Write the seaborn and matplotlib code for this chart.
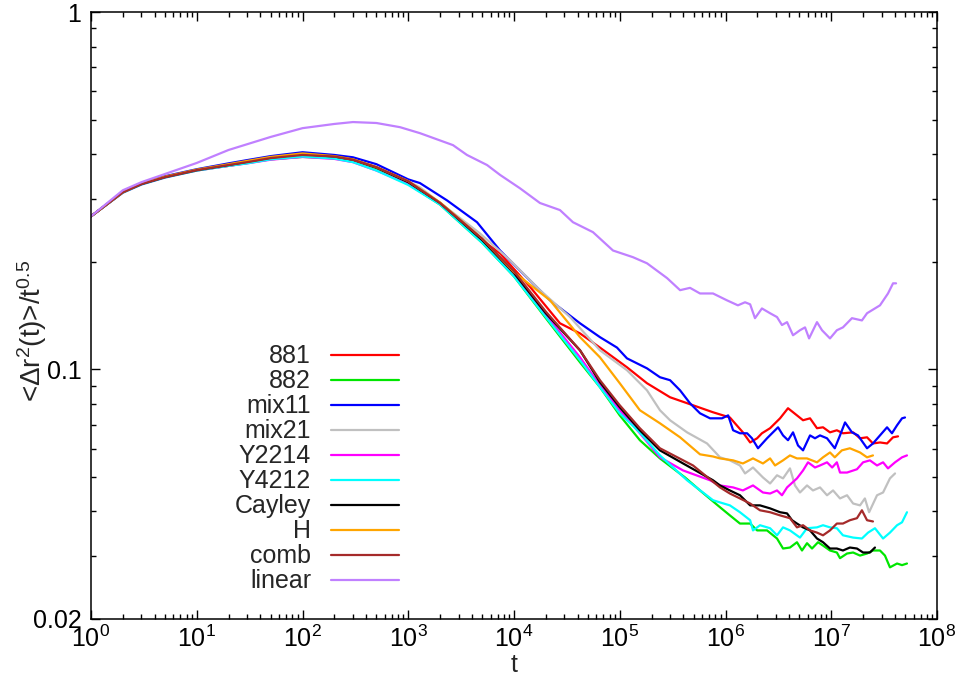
import numpy as np
import pandas as pd
import matplotlib
matplotlib.use('Agg')
import matplotlib.pyplot as plt
import seaborn as sns
from matplotlib.ticker import FixedLocator, FixedFormatter, NullFormatter, LogFormatterSciNotation

sns.set_style('ticks')
plt.rcParams['font.family'] = ['Liberation Sans', 'DejaVu Sans']
plt.rcParams['mathtext.fontset'] = 'custom'
plt.rcParams['mathtext.rm'] = 'Liberation Sans'
plt.rcParams['mathtext.it'] = 'Liberation Sans:italic'
plt.rcParams['mathtext.default'] = 'regular'

# ---- data (t, <dr^2(t)>/t^0.5) ----
t_early = [1, 2, 3, 5, 10, 20, 30, 50, 100, 200, 300, 500, 1000]

t_881 = t_early + [2000, 5000, 7380, 1.42e4, 2.72e4, 4.21e4, 6.5e4, 1.17e5, 1.81e5, 2.99e5, 4.93e5, 7.62e5, 1.10e6,
                   1.46e6, 1.71e6, 1.99e6, 2.21e6, 2.64e6, 3.28e6, 3.90e6, 4.74e6, 5.41e6, 6.30e6, 7.33e6, 8.36e6,
                   9.73e6, 1.13e7, 1.29e7, 1.61e7, 1.87e7, 2.18e7, 2.48e7, 2.89e7, 3.37e7, 3.84e7, 4.28e7]
y_881 = [0.268, 0.313, 0.330, 0.345, 0.361, 0.371, 0.378, 0.389, 0.397, 0.392, 0.385, 0.366, 0.334,
         0.291, 0.230, 0.211, 0.170, 0.1345, 0.126, 0.115, 0.1013, 0.0914, 0.0835, 0.0793, 0.0758, 0.0733,
         0.0666, 0.0624, 0.0641, 0.0662, 0.0684, 0.0729, 0.0778, 0.0743, 0.0720, 0.0729, 0.0684, 0.0688,
         0.0666, 0.0675, 0.0662, 0.0666, 0.0641, 0.0645, 0.0620, 0.0624, 0.0620, 0.0645, 0.0649]

t_882 = t_early + [2000, 5000, 1e4, 2e4, 4.21e4, 6.5e4, 1e5, 1.55e5, 2.4e5, 4.14e5, 5.74e5,
                   8.87e5, 1.10e6, 1.37e6, 1.71e6, 1.99e6, 2.47e6, 3.07e6, 3.50e6, 4.07e6, 4.74e6,
                   5.29e6, 5.90e6, 6.58e6, 7.50e6, 8.36e6, 9.73e6, 1.13e7, 1.21e7, 1.41e7, 1.61e7,
                   1.87e7, 2.18e7, 2.48e7, 2.89e7, 3.22e7, 3.59e7, 4.19e7, 4.67e7, 5.2e7]
y_882 = [0.268, 0.313, 0.330, 0.345, 0.360, 0.372, 0.378, 0.387, 0.393, 0.390, 0.383, 0.363, 0.330,
         0.289, 0.226, 0.182, 0.139, 0.1046, 0.0891, 0.0743, 0.0633, 0.0563, 0.0498, 0.0458,
         0.0411, 0.0390, 0.0370, 0.0370, 0.0354, 0.0354, 0.0336, 0.0315, 0.0317, 0.0328,
         0.0311, 0.0326, 0.0315, 0.0328, 0.0321, 0.0311, 0.0307, 0.0296, 0.0305, 0.0307,
         0.0301, 0.0305, 0.0311, 0.0311, 0.0301, 0.0279, 0.0286, 0.0283, 0.0286]

t_mix11 = t_early + [1290, 2325, 4470, 7380, 1.14e4, 2.19e4, 4.21e4, 6.5e4, 9.42e4, 1.17e5,
                     1.81e5, 2.4e5, 2.99e5, 3.72e5, 4.62e5, 5.74e5, 7.14e5, 9.27e5, 1.06e6, 1.18e6,
                     1.37e6, 1.60e6, 1.78e6, 2.03e6, 2.47e6, 2.81e6, 3.14e6, 3.50e6, 3.90e6, 4.35e6,
                     4.85e6, 5.41e6, 6.30e6, 7.02e6, 7.83e6, 9.12e6, 1.08e7, 1.21e7, 1.35e7, 1.57e7,
                     1.79e7, 2.18e7, 2.48e7, 2.89e7, 3.37e7, 3.75e7, 4.19e7, 4.67e7, 4.98e7]
y_mix11 = [0.268, 0.314, 0.332, 0.347, 0.363, 0.377, 0.385, 0.395, 0.405, 0.398, 0.392, 0.375, 0.340,
           0.332, 0.297, 0.258, 0.215, 0.189, 0.156, 0.1345, 0.123, 0.115, 0.1073,
           0.1006, 0.0950, 0.0932, 0.0873, 0.0803, 0.0753, 0.0729, 0.0729, 0.0743, 0.0675,
           0.0662, 0.0662, 0.0641, 0.0601, 0.0641, 0.0666, 0.0688, 0.0653, 0.0633, 0.0666,
           0.0612, 0.0593, 0.0653, 0.0641, 0.0653, 0.0641, 0.0601, 0.0653, 0.0710, 0.0666,
           0.0653, 0.0601, 0.0620, 0.0653, 0.0688, 0.0662, 0.0697, 0.0729, 0.0733]

t_mix21 = t_early + [1290, 4770, 9170, 1.76e4, 3.39e4, 6.5e4, 1.17e5, 1.81e5, 2.4e5, 2.99e5,
                     4.33e5, 6.69e5, 8.87e5, 1.10e6, 1.37e6, 1.53e6, 1.82e6, 2.26e6, 2.64e6, 3.07e6,
                     3.50e6, 4.07e6, 4.54e6, 5.06e6, 5.90e6, 6.72e6, 7.83e6, 9.12e6, 1.04e7, 1.21e7,
                     1.41e7, 1.61e7, 1.87e7, 2.08e7, 2.28e7, 2.71e7, 3.09e7, 3.59e7, 4.01e7]
y_mix21 = [0.268, 0.313, 0.330, 0.345, 0.361, 0.373, 0.380, 0.390, 0.397, 0.393, 0.386, 0.368, 0.336,
           0.323, 0.240, 0.202, 0.1665, 0.140, 0.113, 0.0994, 0.0873, 0.0768, 0.0720,
           0.0666, 0.0620, 0.0567, 0.0556, 0.0538, 0.0511, 0.0531, 0.0498, 0.0479, 0.0505,
           0.0495, 0.0528, 0.0473, 0.0452, 0.0473, 0.0458, 0.0467, 0.0444, 0.0458, 0.0435,
           0.0444, 0.0421, 0.0416, 0.0435, 0.0398, 0.0444, 0.0452, 0.0495, 0.0511]

t_Y2214 = t_early + [2000, 5000, 1e4, 2e4, 4.21e4, 6.5e4, 1e5, 1.55e5, 2.4e5, 3.97e5,
                     7.14e5, 8.87e5, 1.18e6, 1.46e6, 1.82e6, 2.26e6, 2.64e6, 3.07e6, 3.42e6, 3.82e6,
                     4.74e6, 5.41e6, 6.03e6, 7.02e6, 7.83e6, 9.12e6, 1.02e7, 1.13e7, 1.21e7, 1.41e7,
                     1.75e7, 2.0e7, 2.32e7, 2.71e7, 3.09e7, 3.44e7, 4.01e7, 4.67e7, 5.2e7]
y_Y2214 = [0.268, 0.312, 0.329, 0.344, 0.360, 0.371, 0.377, 0.386, 0.393, 0.388, 0.380, 0.360, 0.330,
           0.290, 0.228, 0.184, 0.142, 0.108, 0.0902, 0.0768, 0.0662, 0.0567, 0.0521,
           0.0489, 0.0473, 0.0467, 0.0458, 0.0473, 0.0452, 0.0449, 0.0458, 0.0444, 0.0467,
           0.0495, 0.0521, 0.0549, 0.0531, 0.0538, 0.0549, 0.0531, 0.0549, 0.0514, 0.0514,
           0.0525, 0.0549, 0.0556, 0.0538, 0.0549, 0.0528, 0.0549, 0.0567, 0.0574]

t_Y4212 = t_early + [2000, 5000, 1e4, 2e4, 4.21e4, 6.5e4, 1e5, 1.55e5, 2.4e5, 4.33e5, 7.62e5,
                     8.87e5, 1.10e6, 1.37e6, 1.71e6, 1.82e6, 2.12e6, 2.64e6, 3.07e6, 3.50e6, 4.07e6,
                     5.06e6, 5.90e6, 7.33e6, 8.36e6, 9.73e6, 1.13e7, 1.29e7, 1.61e7, 1.95e7, 2.23e7,
                     2.59e7, 3.09e7, 3.59e7, 4.19e7, 4.67e7, 5.2e7]
y_Y4212 = [0.268, 0.312, 0.329, 0.344, 0.360, 0.371, 0.377, 0.387, 0.394, 0.389, 0.380, 0.360, 0.328,
           0.289, 0.226, 0.182, 0.140, 0.106, 0.0891, 0.0753, 0.0665, 0.0574, 0.0489, 0.0430,
           0.0424, 0.0416, 0.0398, 0.0378, 0.0354, 0.0366, 0.0359, 0.0343, 0.0361, 0.0354,
           0.0338, 0.0359, 0.0361, 0.0366, 0.0361, 0.0359, 0.0343, 0.0338, 0.0336, 0.0349,
           0.0359, 0.0336, 0.0349, 0.0366, 0.0373, 0.0398]

t_Cayley = t_early + [2000, 5000, 1e4, 2e4, 4.21e4, 6.5e4, 1e5, 1.55e5, 2.4e5, 3.97e5,
                      7.62e5, 8.87e5, 1.10e6, 1.37e6, 1.71e6, 2.12e6, 2.64e6, 3.28e6, 3.82e6, 4.26e6,
                      4.74e6, 5.41e6, 6.30e6, 7.33e6, 8.36e6, 9.73e6, 1.13e7, 1.29e7, 1.50e7, 1.75e7,
                      2.0e7, 2.32e7, 2.59e7]
y_Cayley = [0.268, 0.313, 0.330, 0.345, 0.361, 0.373, 0.381, 0.391, 0.400, 0.394, 0.386, 0.367, 0.334,
            0.292, 0.230, 0.186, 0.1435, 0.113, 0.092, 0.0783, 0.0675, 0.0593, 0.0545,
            0.0489, 0.0473, 0.0458, 0.0444, 0.0416, 0.0416, 0.0408, 0.0398, 0.0395, 0.0378,
            0.0370, 0.0361, 0.0354, 0.0336, 0.0328, 0.0315, 0.0315, 0.0311, 0.0317, 0.0315,
            0.0307, 0.0307, 0.0317]

t_H = t_early + [2000, 5000, 1e4, 2.19e4, 4.21e4, 6.5e4, 1e5, 1.55e5, 2.4e5, 3.72e5,
                 5.74e5, 7.62e5, 8.87e5, 1.18e6, 1.46e6, 1.82e6, 2.26e6, 2.64e6, 2.94e6, 3.50e6,
                 4.07e6, 4.74e6, 5.90e6, 7.33e6, 8.36e6, 9.73e6, 1.08e7, 1.26e7, 1.50e7, 1.87e7,
                 2.18e7, 2.48e7]
y_H = [0.268, 0.313, 0.331, 0.346, 0.362, 0.375, 0.383, 0.393, 0.402, 0.395, 0.387, 0.368, 0.336,
       0.293, 0.232, 0.187, 0.156, 0.123, 0.108, 0.0914, 0.0768, 0.0706, 0.0645,
       0.0578, 0.0570, 0.0563, 0.0556, 0.0545, 0.0563, 0.0545, 0.0563, 0.0538, 0.0556,
       0.0574, 0.0563, 0.0563, 0.0549, 0.0567, 0.0585, 0.0567, 0.0593, 0.0601, 0.0585,
       0.0567, 0.0574]

t_comb = t_early + [2000, 5000, 1e4, 2e4, 4.21e4, 6.5e4, 1e5, 1.55e5, 2.4e5, 4.93e5,
                    8.87e5, 1.10e6, 1.37e6, 1.71e6, 2.12e6, 2.64e6, 3.28e6, 4.07e6, 4.74e6, 5.41e6,
                    6.30e6, 7.33e6, 8.36e6, 9.73e6, 1.13e7, 1.29e7, 1.50e7, 1.75e7, 1.95e7, 2.18e7,
                    2.48e7]
y_comb = [0.268, 0.313, 0.330, 0.345, 0.361, 0.373, 0.380, 0.390, 0.398, 0.394, 0.386, 0.368, 0.336,
          0.292, 0.232, 0.188, 0.145, 0.113, 0.0932, 0.0793, 0.0684, 0.0601, 0.0538,
          0.0467, 0.0449, 0.0435, 0.0421, 0.0403, 0.0398, 0.0390, 0.0383, 0.0361, 0.0366,
          0.0354, 0.0349, 0.0343, 0.0354, 0.0370, 0.0370, 0.0378, 0.0383, 0.0403, 0.0378,
          0.0375]

t_linear = [1, 2, 3, 5, 10, 20, 50, 100, 200, 300,
            500, 836, 1290, 2650, 3590, 5560, 7380, 1.14e4, 1.76e4, 2.72e4,
            3.61e4, 5.58e4, 8.63e4, 1.33e5, 1.81e5, 2.80e5, 3.72e5, 4.62e5, 5.74e5, 7.62e5,
            1.03e6, 1.31e6, 1.53e6, 1.71e6, 1.90e6, 2.21e6, 2.64e6, 3.07e6, 3.42e6, 3.82e6,
            4.35e6, 5.06e6, 5.65e6, 6.17e6, 7.33e6, 8.18e6, 9.73e6, 1.13e7, 1.29e7, 1.57e7,
            1.95e7, 2.18e7, 2.89e7, 3.44e7, 3.84e7, 4.10e7]
y_linear = [0.268, 0.317, 0.334, 0.352, 0.378, 0.411, 0.447, 0.473, 0.486, 0.492,
            0.489, 0.476, 0.458, 0.424, 0.398, 0.373, 0.350, 0.321, 0.292, 0.279,
            0.258, 0.242, 0.215, 0.206, 0.198, 0.180, 0.1665, 0.169, 0.163, 0.163,
            0.156, 0.151, 0.154, 0.152, 0.139, 0.148, 0.1435, 0.140, 0.133, 0.1355,
            0.1245, 0.1286, 0.131, 0.122, 0.1355, 0.1286, 0.122, 0.1286, 0.131, 0.139,
            0.137, 0.1435, 0.151, 0.163, 0.174, 0.174]

series = [
    ('881', t_881, y_881, '#ff0000'),
    ('882', t_882, y_882, '#00e600'),
    ('mix11', t_mix11, y_mix11, '#0000ff'),
    ('mix21', t_mix21, y_mix21, '#c0c0c0'),
    ('Y2214', t_Y2214, y_Y2214, '#ff00ff'),
    ('Y4212', t_Y4212, y_Y4212, '#00ffff'),
    ('Cayley', t_Cayley, y_Cayley, '#000000'),
    ('H', t_H, y_H, '#ffa500'),
    ('comb', t_comb, y_comb, '#a52a2a'),
    ('linear', t_linear, y_linear, '#c080ff'),
]

x_major = [1e0, 1e1, 1e2, 1e3, 1e4, 1e5, 1e6, 1e7, 1e8]
y_major = [0.02, 0.1, 1]
y_major_labels = ['0.02', '0.1', '1']
y_minor = [0.03, 0.04, 0.05, 0.06, 0.07, 0.08, 0.09, 0.2, 0.3, 0.4, 0.5, 0.6, 0.7, 0.8, 0.9]

fs = 18
fig = plt.figure(figsize=(9.72, 6.77), dpi=100)
ax = fig.add_axes([91 / 972, 58 / 677, 846 / 972, 607 / 677])

for name, t, y, col in series:
    df = pd.DataFrame({'t': t, 'y': y})
    sns.lineplot(data=df, x='t', y='y', ax=ax, color=col, lw=1.6, label=name,
                 sort=False, estimator=None)

ax.set_xscale('log')
ax.set_yscale('log')
ax.set_xlim(1, 1e8)
ax.set_ylim(0.02, 1)

# decade ticks on x, 2..9 minor ticks inside each decade
x_minor = [m * d for d in x_major[:-1] for m in range(2, 10)]
ax.xaxis.set_major_locator(FixedLocator(x_major))
ax.xaxis.set_major_formatter(LogFormatterSciNotation())
ax.xaxis.set_minor_locator(FixedLocator(x_minor))
ax.xaxis.set_minor_formatter(NullFormatter())
ax.yaxis.set_major_locator(FixedLocator(y_major))
ax.yaxis.set_major_formatter(FixedFormatter(y_major_labels))
ax.yaxis.set_minor_locator(FixedLocator(y_minor))
ax.yaxis.set_minor_formatter(NullFormatter())

ax.tick_params(which='both', direction='in', top=True, right=True, width=1.0, colors='black',
               labelsize=fs)
ax.tick_params(axis='x', which='major', length=6.5, pad=5)
ax.tick_params(axis='y', which='major', length=6.5, pad=7)
ax.tick_params(which='minor', length=3.5)
for sp in ax.spines.values():
    sp.set_linewidth(1.1)
    sp.set_color('black')

ax.set_xlabel('t', fontsize=fs)
ax.xaxis.set_label_coords(0.5, -0.056)
ax.set_ylabel(r'<$\Delta$r$^{2}$(t)>/t$^{0.5}$', fontsize=20)
ax.yaxis.set_label_coords(-0.05, 0.474)

ax.legend(loc='upper right', bbox_to_anchor=(0.3635, 0.4525), frameon=False, markerfirst=False,
          handlelength=2.7, handletextpad=0.8, borderpad=0, borderaxespad=0,
          labelspacing=0.04, fontsize=fs)

fig.savefig('out.png', dpi=100)
